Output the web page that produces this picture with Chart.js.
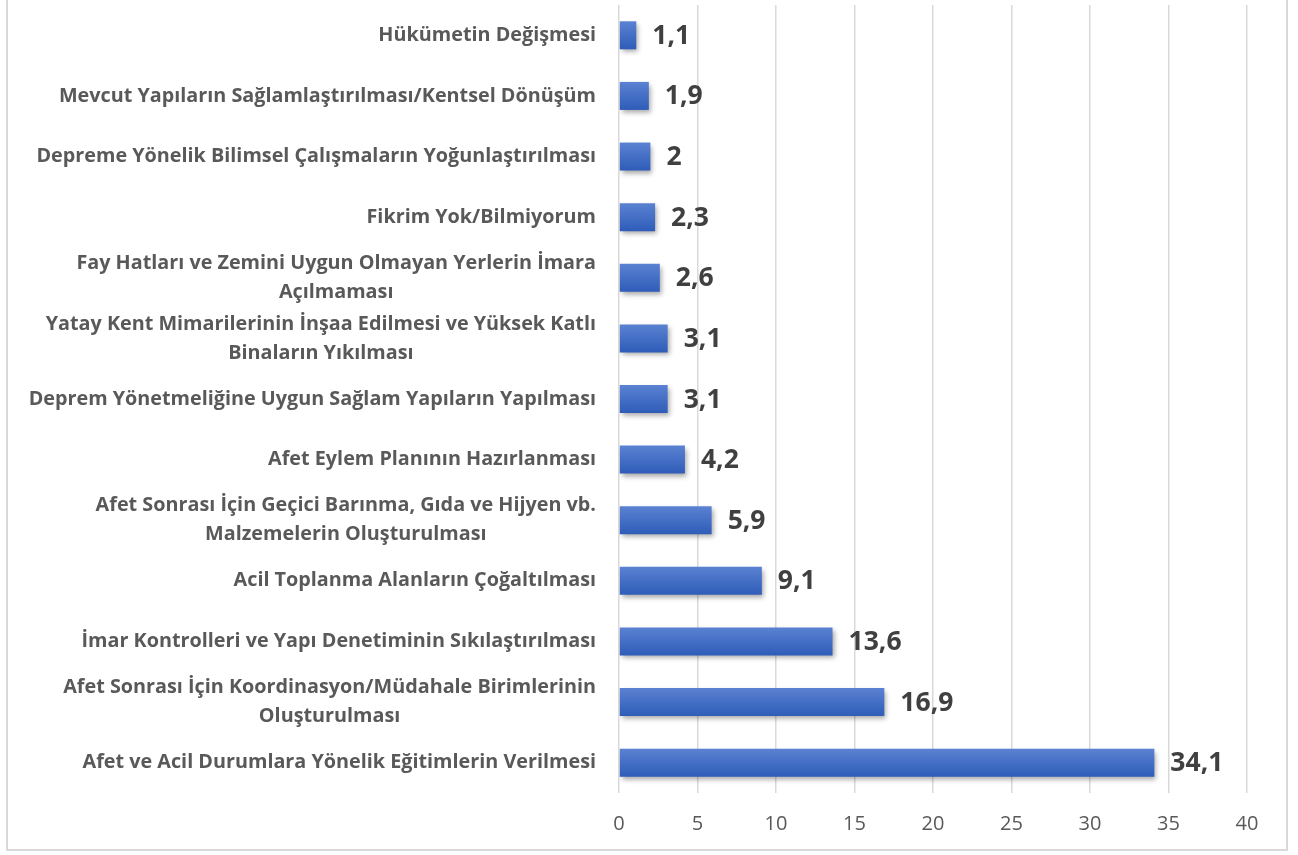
<!DOCTYPE html>
<html>
<head>
<meta charset="utf-8">
<script src="https://cdn.jsdelivr.net/npm/chart.js@4.4.0/dist/chart.umd.min.js"></script>
<style>
  html, body { margin: 0; padding: 0; background: #fff; }
  #wrap { position: relative; width: 1298px; height: 855px; }
  #frame { position: absolute; left: 6px; top: -2px; width: 1282px; height: 853px; border: 2px solid #d9d9d9; box-sizing: border-box; }
  canvas { position: absolute; left: 0; top: 0; }
</style>
</head>
<body>
<div id="wrap">
  <div id="frame"></div>
  <canvas id="chart" width="1298" height="855"></canvas>
</div>
<script>
// categories, top to bottom as in the picture
const categories = [
  "Hükümetin Değişmesi",
  "Mevcut Yapıların Sağlamlaştırılması/Kentsel Dönüşüm",
  "Depreme Yönelik Bilimsel Çalışmaların Yoğunlaştırılması",
  "Fikrim Yok/Bilmiyorum",
  ["Fay Hatları ve Zemini Uygun Olmayan Yerlerin İmara", "Açılmaması"],
  ["Yatay Kent Mimarilerinin İnşaa Edilmesi ve Yüksek Katlı", "Binaların Yıkılması"],
  "Deprem Yönetmeliğine Uygun Sağlam Yapıların Yapılması",
  "Afet Eylem Planının Hazırlanması",
  ["Afet Sonrası İçin Geçici Barınma, Gıda ve Hijyen vb.", "Malzemelerin Oluşturulması"],
  "Acil Toplanma Alanların Çoğaltılması",
  "İmar Kontrolleri ve Yapı Denetiminin Sıkılaştırılması",
  ["Afet Sonrası İçin Koordinasyon/Müdahale Birimlerinin", "Oluşturulması"],
  "Afet ve Acil Durumlara Yönelik Eğitimlerin Verilmesi"
];
const values = [1.1, 1.9, 2, 2.3, 2.6, 3.1, 3.1, 4.2, 5.9, 9.1, 13.6, 16.9, 34.1];
const xTicks = [0, 5, 10, 15, 20, 25, 30, 35, 40];

const labelFont = "bold 19.8px 'Open Sans'";
const valueFont = "bold 26.5px 'Open Sans'";

function barFill(c) {
  const el = c.element;
  if (!el || !el.height) return '#4472c4';
  const g = c.chart.ctx.createLinearGradient(0, el.y - el.height / 2, 0, el.y + el.height / 2);
  g.addColorStop(0, '#5b82d2');
  g.addColorStop(1, '#2e5cb8');
  return g;
}

// category labels: block right-aligned, lines centred inside the block
const catLabels = {
  id: 'catLabels',
  afterDraw(chart) {
    const ctx = chart.ctx, y = chart.scales.y;
    const right = chart.chartArea.left - 23;
    ctx.save();
    ctx.font = labelFont;
    ctx.fillStyle = '#595959';
    ctx.textAlign = 'center';
    ctx.textBaseline = 'middle';
    categories.forEach((lab, i) => {
      const lines = Array.isArray(lab) ? lab : [lab];
      const w = Math.max(...lines.map(l => ctx.measureText(l).width));
      const cx = right - w / 2;
      const cy = y.getPixelForValue(i);
      const lh = 29;
      lines.forEach((l, k) => {
        ctx.fillText(l, cx, cy + (k - (lines.length - 1) / 2) * lh);
      });
    });
    ctx.restore();
  }
};

// value labels at end of bars
const valLabels = {
  id: 'valLabels',
  afterDatasetsDraw(chart) {
    const ctx = chart.ctx;
    const meta = chart.getDatasetMeta(0);
    ctx.save();
    ctx.font = valueFont;
    ctx.fillStyle = '#404040';
    ctx.textAlign = 'left';
    ctx.textBaseline = 'middle';
    meta.data.forEach((bar, i) => {
      ctx.fillText(String(values[i]).replace('.', ','), bar.x + 16, bar.y + 1);
    });
    ctx.restore();
  }
};

// soft drop shadow under the bars
const barShadow = {
  id: 'barShadow',
  beforeDatasetDraw(chart) {
    const ctx = chart.ctx;
    ctx.save();
    ctx.shadowColor = 'rgba(0,0,0,0.35)';
    ctx.shadowBlur = 5;
    ctx.shadowOffsetX = 2;
    ctx.shadowOffsetY = 3;
  },
  afterDatasetDraw(chart) {
    chart.ctx.restore();
  }
};

const chart = new Chart(document.getElementById('chart'), {
  type: 'bar',
  data: {
    labels: categories,
    datasets: [{
      data: values,
      backgroundColor: barFill,
      borderWidth: 0,
      barPercentage: 0.7,
      categoryPercentage: 0.66
    }]
  },
  options: {
    indexAxis: 'y',
    responsive: false,
    animation: false,
    layout: { padding: { top: 5, right: 51, bottom: 0 } },
    plugins: { legend: { display: false }, tooltip: { enabled: false } },
    scales: {
      x: {
        min: 0, max: 40,
        afterBuildTicks: s => { s.ticks = xTicks.map(v => ({ value: v })); },
        grid: { color: '#d9d9d9', lineWidth: 1.5, drawTicks: false },
        border: { display: false },
        ticks: { color: '#595959', font: { family: 'Open Sans', size: 20 }, padding: 19 }
      },
      y: {
        grid: { display: false },
        border: { display: false },
        ticks: { display: false },
        afterFit: s => { s.width = 619; }
      }
    }
  },
  plugins: [barShadow, valLabels, catLabels]
});
chart.update('none');
</script>
</body>
</html>
